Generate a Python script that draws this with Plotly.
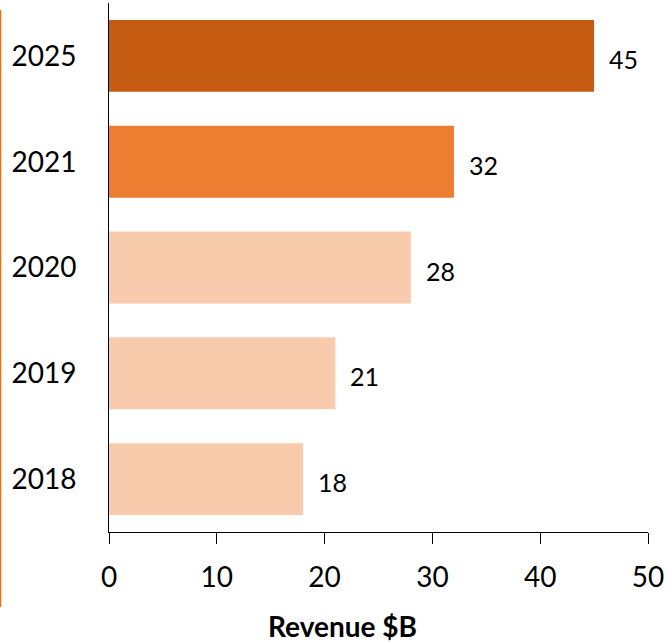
import plotly.graph_objects as go

years = ["2018", "2019", "2020", "2021", "2025"]
revenue = [18, 21, 28, 32, 45]
colors = ["#F8CBAD", "#F8CBAD", "#F8CBAD", "#ED7D31", "#C55A11"]
x_title = "Revenue $B"

FONT = "Lato"

fig = go.Figure()
fig.add_trace(go.Bar(
    y=years, x=revenue, orientation="h",
    marker=dict(color=colors, line=dict(width=0)),
    hoverinfo="skip",
))

# value labels to the right of each bar (category index positions)
for i, v in enumerate(revenue):
    fig.add_annotation(x=v, y=i, xref="x", yref="y", text=str(v),
                       showarrow=False, xanchor="left", yanchor="middle",
                       xshift=13, yshift=-3,
                       font=dict(family=FONT, size=25, color="#000000"))

fig.add_shape(type="line", xref="paper", yref="paper",
              x0=-0.2013, x1=-0.2013, y0=0.987, y1=-0.142,
              line=dict(color="#FF6A00", width=1.5))

fig.add_annotation(text="<b>" + x_title + "</b>", xref="paper", yref="paper",
                   x=0.434, y=-0.177, xanchor="center", yanchor="middle",
                   showarrow=False, font=dict(family=FONT, size=28, color="#000000"))

fig.update_layout(
    width=671, height=642,
    margin=dict(l=109, r=23, t=3, b=110),
    paper_bgcolor="white", plot_bgcolor="white",
    bargap=0.32,
    showlegend=False,
    font=dict(family=FONT, color="#000000"),
    xaxis=dict(
        range=[0, 50], tickvals=[0, 10, 20, 30, 40, 50],
        showgrid=False, zeroline=False, automargin=False,
        showline=True, linecolor="#000000", linewidth=1,
        ticks="outside", ticklen=11, tickcolor="#000000", tickwidth=1,
        ticklabelstandoff=9,
        tickfont=dict(family=FONT, size=28),
    ),
    yaxis=dict(
        type="category", categoryorder="array", categoryarray=years,
        range=[-0.5, 4.5],
        showgrid=False, zeroline=False, automargin=False,
        showline=True, linecolor="#000000", linewidth=1,
        ticks="", ticklabelstandoff=26,
        tickfont=dict(family=FONT, size=28),
    ),
)

fig.write_html("out.html", post_script="document.body.style.margin='0';",
               config={"displayModeBar": False})
